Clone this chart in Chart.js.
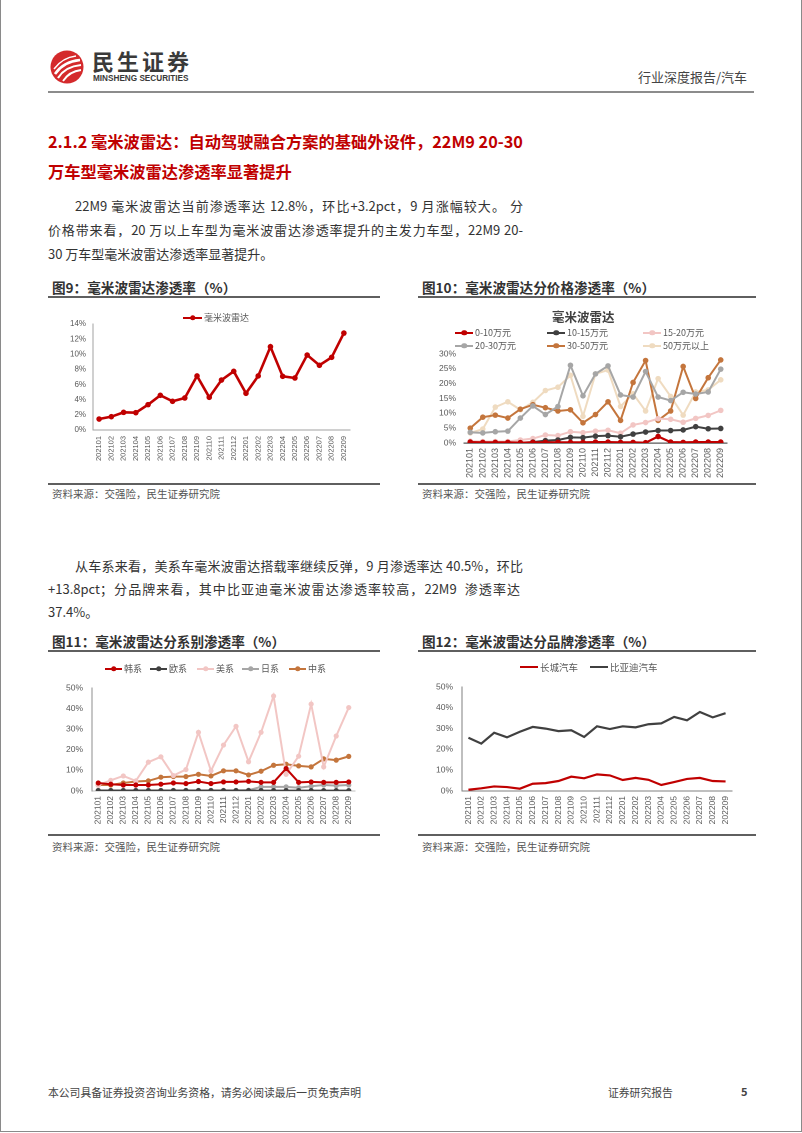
<!DOCTYPE html>
<html><head><meta charset="utf-8">
<script src="https://cdn.jsdelivr.net/npm/chart.js@4.4.0/dist/chart.umd.min.js"></script>
<style>
html,body{margin:0;padding:0;background:#fff;}
body{width:802px;height:1133px;position:relative;overflow:hidden;font-family:"Noto Sans CJK SC","Noto Sans",sans-serif;color:#333;}
.a{position:absolute;white-space:nowrap;}
.border{position:absolute;left:0;top:-5px;width:800px;height:1135px;border:1px solid #8a8a8a;}
.title{font-size:16.25px;font-weight:700;color:#C00000;line-height:22px;}
.para{font-size:13px;line-height:22px;color:#333;text-align:justify;text-align-last:justify;}
.para.last{text-align-last:left;}
.cap{font-size:13.6px;font-weight:700;color:#333;line-height:16px;}
.rule{position:absolute;height:1.6px;background:#5f5f5f;}
.src{font-size:10.5px;color:#555;line-height:14px;}
.chartbox{position:absolute;}
.lg{position:absolute;white-space:nowrap;color:#595959;line-height:12px;}
.mk{position:absolute;}
.mk i{position:absolute;left:50%;top:50%;border-radius:50%;transform:translate(-50%,-50%);}
</style>
</head>
<body>
<div class="border"></div>

<!-- header -->
<svg class="a" style="left:50px;top:50px" width="34" height="34" viewBox="0 0 34 34">
  <circle cx="17" cy="17" r="16.5" fill="#D42A2C"/>
  <path d="M5 24 C 11 15, 19 11, 30 10" stroke="#fff" stroke-width="2.6" fill="none"/>
  <path d="M8 28 C 13 20, 20 16, 31 15" stroke="#fff" stroke-width="2.2" fill="none"/>
  <path d="M13 31 C 17 25, 22 21, 31 20" stroke="#fff" stroke-width="1.8" fill="none"/>
  <path d="M4 19 C 10 11, 17 7, 26 6" stroke="#fff" stroke-width="1.5" fill="none"/>
</svg>
<div class="a" style="left:92px;top:47px;font-size:22px;font-weight:700;color:#3a3a3a;letter-spacing:3px;line-height:26px;">民生证券</div>
<div class="a" style="left:93px;top:73px;font-size:8.2px;font-weight:700;color:#3a3a3a;line-height:11px;font-family:'Liberation Sans',sans-serif;">MINSHENG SECURITIES</div>
<div class="a" style="left:638px;top:68px;font-size:13px;color:#444;line-height:18px;">行业深度报告/汽车</div>
<div class="rule" style="left:48px;top:91px;width:706px;height:2px;background:#8c8c8c;"></div>

<!-- title -->
<div class="a title" style="left:48px;top:130px;">2.1.2 毫米波雷达：自动驾驶融合方案的基础外设件，22M9 20-30</div>
<div class="a title" style="left:48px;top:160px;">万车型毫米波雷达渗透率显著提升</div>

<div class="a para" style="left:75px;top:195px;width:448px;">22M9 毫米波雷达当前渗透率达 12.8%，环比+3.2pct，9 月涨幅较大。 分</div>
<div class="a para" style="left:48px;top:219px;width:475px;">价格带来看，20 万以上车型为毫米波雷达渗透率提升的主发力车型，22M9 20-</div>
<div class="a para last" style="left:48px;top:243px;width:475px;">30 万车型毫米波雷达渗透率显著提升。</div>

<!-- captions row 1 -->
<div class="a cap" style="left:52px;top:279px;">图9：毫米波雷达渗透率（%）</div>
<div class="a cap" style="left:422px;top:279px;">图10：毫米波雷达分价格渗透率（%）</div>
<div class="rule" style="left:48px;top:296px;width:332px;"></div>
<div class="rule" style="left:418px;top:296px;width:338px;"></div>
<div class="rule" style="left:48px;top:483px;width:332px;"></div>
<div class="rule" style="left:418px;top:483px;width:338px;"></div>
<div class="a src" style="left:52px;top:487px;">资料来源：交强险，民生证券研究院</div>
<div class="a src" style="left:422px;top:487px;">资料来源：交强险，民生证券研究院</div>

<div class="a para" style="left:75px;top:555px;width:448px;">从车系来看，美系车毫米波雷达搭载率继续反弹，9 月渗透率达 40.5%，环比</div>
<div class="a para" style="left:48px;top:578px;width:472px;">+13.8pct；分品牌来看，其中比亚迪毫米波雷达渗透率较高，22M9&nbsp; 渗透率达</div>
<div class="a para last" style="left:48px;top:601px;width:475px;">37.4%。</div>

<div class="a cap" style="left:52px;top:633px;">图11：毫米波雷达分系别渗透率（%）</div>
<div class="a cap" style="left:422px;top:633px;">图12：毫米波雷达分品牌渗透率（%）</div>
<div class="rule" style="left:48px;top:650px;width:332px;"></div>
<div class="rule" style="left:418px;top:650px;width:338px;"></div>
<div class="rule" style="left:48px;top:834px;width:332px;"></div>
<div class="rule" style="left:418px;top:834px;width:338px;"></div>
<div class="a src" style="left:52px;top:840px;">资料来源：交强险，民生证券研究院</div>
<div class="a src" style="left:422px;top:840px;">资料来源：交强险，民生证券研究院</div>

<!-- footer -->
<div class="a" style="left:48px;top:1085px;font-size:10.8px;color:#444;line-height:14px;">本公司具备证券投资咨询业务资格，请务必阅读最后一页免责声明</div>
<div class="a" style="left:608px;top:1085px;font-size:10.8px;color:#444;line-height:14px;">证券研究报告</div>
<div class="a" style="left:741px;top:1084px;font-size:11px;font-weight:700;color:#444;line-height:14px;">5</div>

<div class="chartbox" id="box9"><canvas id="c9"></canvas></div>
<div class="chartbox" id="box10"><canvas id="c10"></canvas></div>
<div class="chartbox" id="box11"><canvas id="c11"></canvas></div>
<div class="chartbox" id="box12"><canvas id="c12"></canvas></div>

<script>
// ---------- data ----------
const months = ['202101','202102','202103','202104','202105','202106','202107','202108','202109','202110','202111','202112','202201','202202','202203','202204','202205','202206','202207','202208','202209'];

// Fig 9
const radarName = '毫米波雷达';
const radarRate = [1.45,1.76,2.33,2.29,3.35,4.58,3.79,4.23,7.14,4.32,6.6,7.75,4.85,7.14,11.0,7.09,6.87,9.9,8.55,9.6,12.8];

// Fig 10
const priceTitle = '毫米波雷达';
const priceNames = ['0-10万元','10-15万元','15-20万元','20-30万元','30-50万元','50万元以上'];
const price0to10 = [0.3,0.2,0.2,0.2,0.1,0.2,0.2,0.2,0.2,0.2,0.3,0.3,0.2,0.2,0.1,2.2,0.3,0.2,0.3,0.3,0.3];
const price10to15 = [0,0,0,0,0.1,0.3,0.8,1.0,1.9,1.8,2.3,2.5,2.1,3.0,3.7,4.2,4.2,4.4,5.5,4.8,4.9];
const price15to20 = [0.6,0.5,0.5,0.5,1.0,1.5,2.7,2.5,3.8,3.5,4.0,4.3,3.3,6.1,6.9,8.2,8.0,7.0,8.3,9.3,11.0];
const price20to30 = [3.6,3.4,3.8,4.0,8.4,12.5,9.6,12.3,26.2,15.9,23.3,26.0,16.2,15.5,24.1,15.5,14.3,17.1,16.5,17.2,24.9];
const price30to50 = [5.0,8.7,9.4,8.4,11.4,12.9,11.9,10.8,11.2,6.8,9.6,13.9,7.6,20.4,27.8,7.6,10.8,25.8,15.0,22.0,28.0];
const price50plus = [3.4,4.7,12.1,13.9,11.2,13.7,17.7,18.8,22.8,9.0,23.3,24.6,12.3,16.6,10.8,21.7,15.7,9.4,17.2,17.9,21.3];

// Fig 11
const originNames = ['韩系','欧系','美系','日系','中系'];
const korean   = [3.9,3.3,2.9,2.9,2.9,3.3,3.9,3.6,4.6,3.6,4.4,4.4,4.7,4.2,4.2,10.9,4.2,4.4,4.2,4.2,4.4];
const european = [0.2,0.2,0.2,0.2,0.2,0.2,0.2,0.2,0.2,0.2,0.2,0.2,0.2,0.2,0.2,0.2,0.2,0.2,0.2,0.2,0.2];
const american = [2.8,5.2,7.3,4.9,14.0,16.6,7.5,10.4,28.5,9.8,22.3,31.4,14.2,28.5,46.1,8.1,16.9,42.2,11.7,26.7,40.5];
const japanese = [0.3,0.3,0.3,0.3,0.3,0.3,0.3,0.3,0.3,0.3,0.3,0.3,0.4,2.0,2.0,2.0,1.6,2.3,2.9,2.6,2.9];
const chinese  = [2.9,2.9,3.9,4.6,4.9,6.7,7.0,7.0,8.1,7.3,9.8,9.8,7.8,9.6,12.5,13.0,12.2,11.7,15.6,15.0,16.8];

// Fig 12
const brandNames = ['长城汽车','比亚迪汽车'];
const greatWall = [0.6,1.3,2.2,1.9,1.1,3.5,3.8,4.8,6.9,6.1,8.0,7.5,5.3,6.3,5.4,2.9,4.3,5.8,6.3,4.8,4.6];
const byd = [25.6,22.8,28.0,25.8,28.5,30.8,30.0,28.8,29.2,26.0,31.1,29.8,31.1,30.6,32.1,32.5,35.6,34.0,38.0,35.4,37.4];

// ---------- helpers ----------
const RED='#C00000', DARK='#404040', PINK='#F2C6C4', GRAY='#A6A6A6', ORANGE='#C4753C', BEIGE='#EFDBC0';

function ds(label, data, color, width, radius){
  return {label, data, borderColor:color, backgroundColor:color, borderWidth:width,
    pointRadius:radius, pointHoverRadius:radius, pointBackgroundColor:color, pointBorderWidth:0, tension:0};
}

function makeChart(id, box, plot, datasets, cfg){
  const wrap = document.getElementById('box'+id);
  const cv = document.getElementById('c'+id);
  wrap.style.left = box.x+'px'; wrap.style.top = box.y+'px';
  wrap.style.width = box.w+'px'; wrap.style.height = box.h+'px';
  cv.width = box.w; cv.height = box.h;
  cv.style.width = box.w+'px'; cv.style.height = box.h+'px';
  const yW = plot.l - box.x, xH = (box.y+box.h) - plot.b;
  const padT = plot.t - box.y, padR = (box.x+box.w) - plot.r;
  new Chart(cv, {
    type:'line',
    data:{labels:months, datasets},
    options:{
      responsive:false, animation:false, devicePixelRatio:2,
      layout:{padding:{left:0, top:padT, right:padR, bottom:0}},
      plugins:{legend:{display:false}, tooltip:{enabled:false}},
      scales:{
        x:{type:'category', offset:true,
           grid:{display:false, drawTicks:false, tickLength:0},
           border:{display:true, color:cfg.xAxisColor, width:cfg.xAxisWidth||1},
           ticks:{minRotation:90, maxRotation:90, autoSkip:false, padding:cfg.xPad,
                  color:'#595959', font:{family:'Liberation Sans', size:cfg.xFont}},
           afterFit:(s)=>{s.height = xH;}},
        y:{min:0, max:cfg.yMax,
           grid:{display:false, drawTicks:false, tickLength:0},
           border:{display:cfg.yAxis, color:cfg.yAxisColor||'#999', width:1},
           ticks:{stepSize:cfg.yStep, padding:cfg.yPad, color:'#595959',
                  font:{family:'Liberation Sans', size:cfg.yFont},
                  callback:(v)=>v+'%'},
           afterFit:(s)=>{s.width = yW;}}
      }
    }
  });
}

function legendItem(x, y, name, color, mw, lineH, dot, fs){
  const m = document.createElement('div');
  m.className='mk';
  m.style.cssText = `left:${x}px;top:${y - lineH/2}px;width:${mw}px;height:${lineH}px;background:${color};`;
  if (dot){ const i=document.createElement('i'); i.style.width=dot+'px'; i.style.height=dot+'px'; i.style.background=color; m.appendChild(i); }
  document.body.appendChild(m);
  const t = document.createElement('div');
  t.className='lg'; t.textContent=name;
  t.style.cssText += `left:${x+mw+2}px;top:${y-6.5}px;font-size:${fs}px;`;
  document.body.appendChild(t);
}

// ---------- Fig 9 ----------
makeChart(9, {x:40,y:300,w:330,h:170}, {l:93,r:350,t:324,b:430},
  [ds(radarName, radarRate, RED, 2.6, 2.8)],
  {yMax:14, yStep:2, xPad:6, yPad:7, xFont:7.5, yFont:8, xAxisColor:'#A0A0A0', yAxis:true, yAxisColor:'#A0A0A0'});
legendItem(183, 318, radarName, RED, 19, 2.4, 5.5, 9);

// ---------- Fig 10 ----------
makeChart(10, {x:410,y:300,w:340,h:182}, {l:464,r:727,t:354,b:443},
  [ds(priceNames[0], price0to10, '#C00000', 2.2, 2.8),
   ds(priceNames[1], price10to15, DARK, 2, 2.8),
   ds(priceNames[2], price15to20, PINK, 2, 2.8),
   ds(priceNames[3], price20to30, GRAY, 2, 2.8),
   ds(priceNames[4], price30to50, ORANGE, 2, 2.8),
   ds(priceNames[5], price50plus, BEIGE, 2, 2.8)],
  {yMax:30, yStep:5, xPad:5, yPad:8, xFont:9, yFont:8.5, xAxisColor:'#595959', xAxisWidth:1.2, yAxis:false});
(function(){
  const t=document.createElement('div'); t.className='lg'; t.textContent=priceTitle;
  t.style.cssText+='left:552px;top:309px;font-size:12.5px;font-weight:700;color:#404040;line-height:16px;';
  document.body.appendChild(t);
  const cols=[455,547,643], rows=[333,346];
  const cs=['#C00000',DARK,PINK,GRAY,ORANGE,BEIGE];
  priceNames.forEach((n,i)=>legendItem(cols[i%3], rows[Math.floor(i/3)], n, cs[i], 18, 2.2, 5.5, 9));
})();

// ---------- Fig 11 ----------
makeChart(11, {x:40,y:655,w:340,h:178}, {l:92,r:355,t:688,b:791},
  [ds(originNames[0], korean, RED, 2, 2.6),
   ds(originNames[1], european, DARK, 2, 2.6),
   ds(originNames[2], american, PINK, 2, 2.6),
   ds(originNames[3], japanese, GRAY, 2, 2.6),
   ds(originNames[4], chinese, ORANGE, 2, 2.6)],
  {yMax:50, yStep:10, xPad:5, yPad:9, xFont:8.5, yFont:8.5, xAxisColor:'#BFBFBF', yAxis:true, yAxisColor:'#8C8C8C'});
(function(){
  const xs=[105,150,197,242,289], cs=[RED,DARK,PINK,GRAY,ORANGE];
  originNames.forEach((n,i)=>legendItem(xs[i], 669, n, cs[i], 17, 2.4, 5.5, 9));
})();

// ---------- Fig 12 ----------
makeChart(12, {x:410,y:655,w:340,h:178}, {l:462,r:732,t:687,b:791},
  [ds(brandNames[0], greatWall, RED, 2.2, 0),
   ds(brandNames[1], byd, DARK, 2.2, 0)],
  {yMax:50, yStep:10, xPad:5, yPad:9, xFont:8.5, yFont:8.5, xAxisColor:'#7F7F7F', yAxis:true, yAxisColor:'#7F7F7F'});
legendItem(520, 667, brandNames[0], RED, 18, 2.4, 0, 9.5);
legendItem(590, 667, brandNames[1], DARK, 18, 2.4, 0, 9.5);
</script>
</body></html>
